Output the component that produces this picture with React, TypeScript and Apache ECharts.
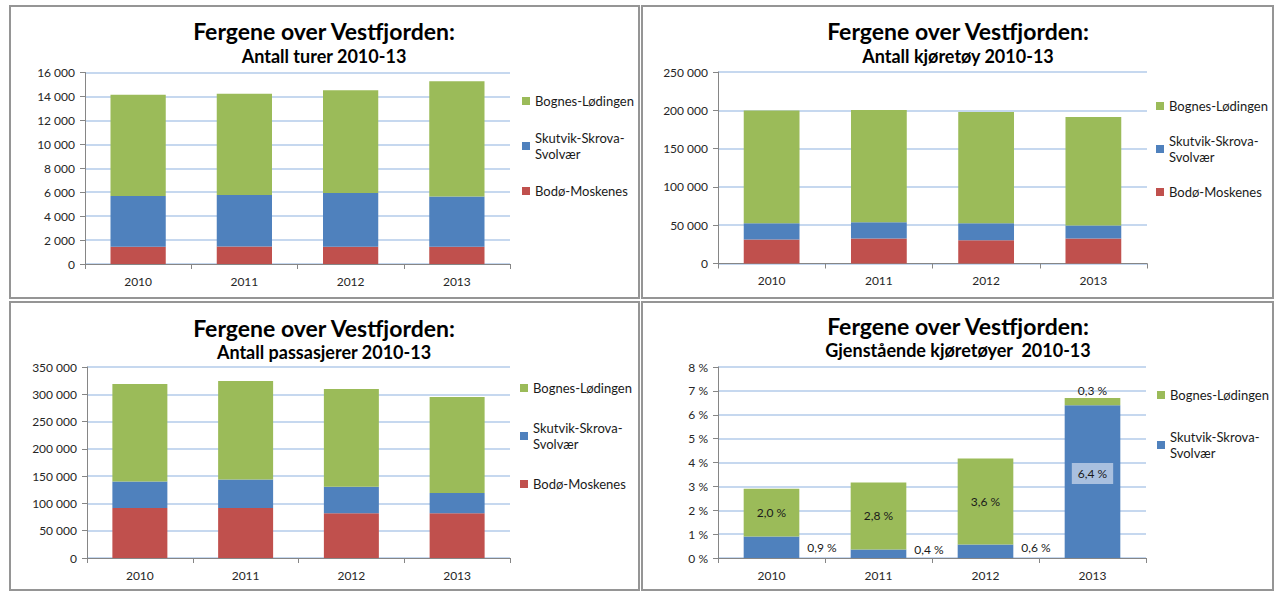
import React, { useEffect, useRef } from "react";
import * as echarts from "echarts";

const years = ["2010", "2011", "2012", "2013"];
const seriesNames = ["Bodø-Moskenes", "Skutvik-Skrova-Svolvær", "Bognes-Lødingen"];
const colors = ["#c0504d", "#4f81bd", "#9bbb59"];

// Panel 1: Antall turer
const turerBodo = [1450, 1460, 1450, 1450];
const turerSkutvik = [4230, 4310, 4480, 4200];
const turerBognes = [8470, 8460, 8580, 9610];

// Panel 2: Antall kjøretøy
const kjBodo = [31300, 32600, 30400, 32600];
const kjSkutvik = [21300, 21300, 22200, 17000];
const kjBognes = [147000, 146500, 145200, 141700];

// Panel 3: Antall passasjerer
const paBodo = [91800, 91800, 82000, 82000];
const paSkutvik = [48300, 52000, 48400, 37300];
const paBognes = [178700, 180600, 179300, 175700];

// Panel 4: Gjenstående kjøretøyer (%)
const gjSkutvik = [0.9, 0.36, 0.57, 6.4];
const gjBognes = [2.0, 2.8, 3.6, 0.3];

const mainTitle = "Fergene over Vestfjorden:";
const subTitles = [
  "Antall turer 2010-13",
  "Antall kjøretøy 2010-13",
  "Antall passasjerer 2010-13",
  "Gjenstående kjøretøyer  2010-13",
];

const FONT = "Lato, 'Noto Sans', sans-serif";

const fmtThousands = (v: number) =>
  String(v).replace(/\B(?=(\d{3})+(?!\d))/g, " ");
const fmtPct = (v: number) => v.toFixed(1).replace(".", ",") + " %";

export default function App() {
  const ref = useRef<HTMLDivElement>(null);

  useEffect(() => {
    if (!ref.current) return;
    const chart = echarts.init(ref.current, null, { renderer: "svg" });

    const grids = [
      { left: 85, top: 72.5, width: 425, height: 191.5 },
      { left: 718, top: 72, width: 429, height: 191.5 },
      { left: 87, top: 367, width: 423, height: 191 },
      { left: 718, top: 367, width: 428, height: 191 },
    ];
    const yCfg = [
      { max: 16000, interval: 2000, pct: false },
      { max: 250000, interval: 50000, pct: false },
      { max: 350000, interval: 50000, pct: false },
      { max: 8, interval: 1, pct: true },
    ];
    const titleCenters = [
      { x: 324, t: 18, s: 46 },
      { x: 958, t: 18, s: 46 },
      { x: 324, t: 315, s: 342 },
      { x: 958, t: 313, s: 340 },
    ];

    const titles: any[] = [];
    titleCenters.forEach((c, i) => {
      titles.push({
        text: mainTitle,
        left: c.x,
        top: c.t,
        textAlign: "center",
        padding: 0,
        textStyle: { fontFamily: FONT, fontSize: 23, fontWeight: "bold", color: "#000", lineHeight: 26 },
      });
      titles.push({
        text: subTitles[i],
        left: c.x,
        top: c.s,
        textAlign: "center",
        padding: 0,
        textStyle: { fontFamily: FONT, fontSize: 18, fontWeight: "bold", color: "#000", lineHeight: 20 },
      });
    });

    const xAxis = grids.map((_, i) => ({
      type: "category",
      gridIndex: i,
      data: years,
      axisLine: { lineStyle: { color: "#868686", width: 1 } },
      axisTick: { show: true, length: 5, lineStyle: { color: "#868686" } },
      axisLabel: { fontFamily: FONT, fontSize: 12, color: "#262626", margin: 11 },
    }));

    const yAxis = yCfg.map((c, i) => ({
      type: "value",
      gridIndex: i,
      min: 0,
      max: c.max,
      interval: c.interval,
      axisLine: { show: true, lineStyle: { color: "#868686", width: 1 } },
      axisTick: { show: true, length: 5, lineStyle: { color: "#868686" } },
      splitLine: { lineStyle: { color: "#c6d8ef", width: 2 } },
      axisLabel: {
        fontFamily: FONT,
        fontSize: 12,
        color: "#262626",
        margin: 10,
        formatter: (v: number) => (c.pct ? v + " %" : fmtThousands(v)),
      },
    }));

    const stackedPanels = [
      [turerBodo, turerSkutvik, turerBognes],
      [kjBodo, kjSkutvik, kjBognes],
      [paBodo, paSkutvik, paBognes],
    ];

    const series: any[] = [];
    stackedPanels.forEach((arrs, p) => {
      arrs.forEach((arr, k) => {
        series.push({
          type: "bar",
          name: seriesNames[k],
          xAxisIndex: p,
          yAxisIndex: p,
          stack: "s" + p,
          barWidth: "52%",
          data: arr,
          itemStyle: { color: colors[k] },
        });
      });
    });

    const labelBase = {
      show: true,
      fontFamily: FONT,
      fontSize: 12,
      color: "#1a1a1a",
      formatter: (pp: any) => fmtPct(pp.value),
    };

    const blueOffsets = [[0, 0], [0, -4], [0, -4]];

    series.push({
      type: "bar",
      name: seriesNames[1],
      xAxisIndex: 3,
      yAxisIndex: 3,
      stack: "s3",
      barWidth: "52%",
      itemStyle: { color: colors[1] },
      data: gjSkutvik.map((v, i) =>
        i < 3
          ? { value: v, label: { ...labelBase, position: "right", distance: 8, offset: blueOffsets[i] } }
          : {
              value: v,
              label: {
                ...labelBase,
                position: "inside",
                offset: [0, -8],
                backgroundColor: "#a9c0df",
                padding: [5, 6, 4, 6],
              },
            }
      ),
    });
    series.push({
      type: "bar",
      name: seriesNames[2],
      xAxisIndex: 3,
      yAxisIndex: 3,
      stack: "s3",
      barWidth: "52%",
      itemStyle: { color: colors[2] },
      data: gjBognes.map((v, i) =>
        i < 3
          ? { value: v, label: { ...labelBase, position: "inside" } }
          : { value: v, label: { ...labelBase, position: "top", distance: 2 } }
      ),
    });

    const legendPos = [
      { x: 522, y: 101, gap: 13, three: true },
      { x: 1156, y: 106, gap: 11, three: true },
      { x: 520, y: 388, gap: 16, three: true },
      { x: 1157, y: 395, gap: 18, three: false },
    ];
    const legends = legendPos.map((l) => {
      const data: any[] = [
        { name: seriesNames[2] },
        { name: seriesNames[1], textStyle: { padding: [16, 0, 0, 0] } },
      ];
      if (l.three) data.push({ name: seriesNames[0] });
      return {
        orient: "vertical",
        left: l.x,
        top: l.y - 8,
        padding: 0,
        itemGap: l.gap,
        itemWidth: 8,
        itemHeight: 8,
        icon: "rect",
        selectedMode: false,
        data,
        formatter: (n: string) => (n === seriesNames[1] ? "Skutvik-Skrova-\nSvolvær" : n),
        textStyle: { fontFamily: FONT, fontSize: 13, color: "#1a1a1a", lineHeight: 16 },
      };
    });

    const frames = [
      { x: 10, y: 6, w: 629, h: 292 },
      { x: 642, y: 6, w: 631, h: 292 },
      { x: 10, y: 302, w: 629, h: 288 },
      { x: 642, y: 302, w: 631, h: 288 },
    ];

    chart.setOption({
      animation: false,
      backgroundColor: "#ffffff",
      title: titles,
      grid: grids,
      xAxis,
      yAxis,
      legend: legends,
      series,
      graphic: frames.map((f) => ({
        type: "rect",
        shape: { x: f.x, y: f.y, width: f.w, height: f.h },
        style: { fill: "none", stroke: "#959595", lineWidth: 2 },
        silent: true,
        z: 100,
      })),
    });

    return () => chart.dispose();
  }, []);

  return (
    <div
      ref={ref}
      style={{ position: "fixed", left: 0, top: 0, width: 1279, height: 595 }}
    />
  );
}
